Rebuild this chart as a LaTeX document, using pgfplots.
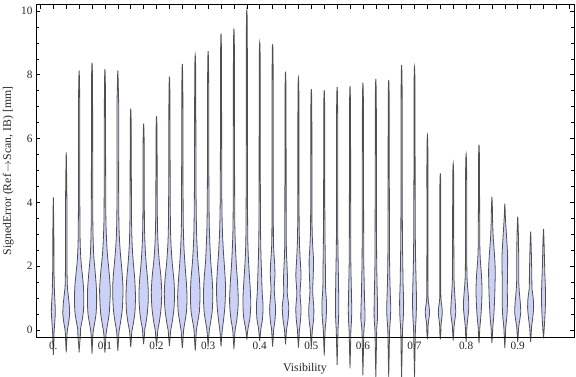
\documentclass[border=0pt]{standalone}
\usepackage{fontspec}
\setmainfont{Liberation Serif}
\usepackage{pgfplots}
\pgfplotsset{compat=1.18}
\definecolor{vfill}{RGB}{204,210,247}
\definecolor{vedge}{RGB}{80,80,80}
\def\vs{0.001938}
\newcommand\violin[4]{%
  \gdef\rpts{(#1,#2)}\gdef\lpts{}%
  \foreach \yy/\ww in {#4}{%
    \pgfmathsetmacro\xr{#1+\ww*\vs}%
    \pgfmathsetmacro\xl{#1-\ww*\vs}%
    \xdef\rpts{\rpts (\xr,\yy)}%
    \xdef\lpts{(\xl,\yy) \lpts}%
  }%
  \edef\temp{\noexpand\addplot[violin] coordinates {\rpts (#1,#3) \lpts (#1,#2)};}%
  \temp
}
\begin{document}
\begin{tikzpicture}
\path[use as bounding box] (-36bp,-39.7bp) rectangle (540bp,337.3bp);
\begin{axis}[
  scale only axis, width=538bp, height=332.6bp,
  at={(0,0)}, anchor=south west,
  xmin=-0.0336, xmax=1.0091, ymin=-0.229, ymax=10.197,
  clip=false, axis on top,
  axis line style={line width=0.7bp},
  tick style={black, line width=0.6bp},
  tick align=inside,
  major tick length=4.3bp, minor tick length=2.6bp,
  xtick={-0.025,0,0.025,0.05,0.075,0.1,0.125,0.15,0.175,0.2,0.225,0.25,0.275,0.3,0.325,0.35,0.375,0.4,0.425,0.45,0.475,0.5,0.525,0.55,0.575,0.6,0.625,0.65,0.675,0.7,0.725,0.75,0.775,0.8,0.825,0.85,0.875,0.9,0.925,0.95,0.975,1.0},
  xticklabels={{},{0.},{},{},{},{0.1},{},{},{},{0.2},{},{},{},{0.3},{},{},{},{0.4},{},{},{},{0.5},{},{},{},{0.6},{},{},{},{0.7},{},{},{},{0.8},{},{},{},{0.9},{},{},{},{}},
  xtick pos=right, xticklabel pos=left,
  ytick={0,2,4,6,8,10}, minor y tick num=3,
  ytick pos=both, yticklabel pos=left,
  /pgf/number format/assume math mode=true,
  ticklabel style={font=\fontsize{11.3}{13}\selectfont, text=black!85},
  xticklabel style={yshift=-1.5bp},
  xlabel={Visibility}, ylabel={SignedError (Ref$\,\rightarrow$Scan, IB) [mm]},
  every axis x label/.style={at={(axis description cs:0.5,-0.0932)}, anchor=center, font=\fontsize{11.8}{14}\selectfont, text=black!85},
  every axis y label/.style={at={(axis description cs:-0.0515,0.5)}, anchor=center, rotate=90, font=\fontsize{11.8}{14}\selectfont, text=black!85},
  violin/.style={draw=vedge, line width=0.8bp, fill=vfill, smooth, tension=0.5, mark=none},
]
\violin{0}{-0.78}{4.16}{-0.4/0.5, -0.1/0.7, 0.2/1.3, 0.55/2.0, 0.9/1.6, 1.2/1.1, 1.5/0.9, 2.0/0.6, 3.0/0.5}
\violin{0.025}{-0.70}{5.57}{-0.4/0.5, -0.05/1.0, 0.25/2.5, 0.5/3.4, 0.8/3.0, 1.1/2.0, 1.4/1.1, 2.0/0.8, 3.5/0.8, 4.6/0.5}
\violin{0.05}{-0.70}{8.13}{-0.45/0.5, -0.2/1.2, 0.05/1.5, 0.3/3.0, 0.6/4.3, 1.0/4.7, 1.4/4.2, 1.8/3.0, 2.2/1.8, 2.8/1.0, 4.0/0.7, 6.0/0.6, 7.5/0.5}
\violin{0.075}{-0.75}{8.38}{-0.4/0.5, -0.1/1.0, 0.15/2.2, 0.5/4.0, 0.9/4.6, 1.3/4.4, 1.8/3.2, 2.3/1.8, 3.0/1.0, 4.0/0.7, 6.0/0.6, 7.8/0.5}
\violin{0.1}{-0.71}{8.18}{-0.4/0.6, -0.1/1.2, 0.15/2.5, 0.5/4.2, 0.9/5.0, 1.3/5.3, 1.8/4.2, 2.4/2.4, 3.0/1.4, 3.6/0.9, 5.0/0.7, 7.5/0.5}
\violin{0.125}{-0.65}{8.14}{-0.35/0.6, -0.05/1.2, 0.2/2.5, 0.6/4.3, 1.0/5.0, 1.4/5.1, 1.9/4.0, 2.5/2.3, 3.2/1.2, 4.5/0.8, 6.8/0.9, 7.6/0.5}
\violin{0.15}{-0.54}{6.94}{-0.3/0.6, -0.05/1.1, 0.2/2.6, 0.6/4.3, 1.1/4.7, 1.6/4.0, 2.1/2.6, 2.7/1.4, 3.5/0.8, 5.0/0.6, 6.4/0.5}
\violin{0.175}{-0.44}{6.47}{-0.2/0.7, 0.05/1.3, 0.2/2.2, 0.5/3.6, 1.0/4.7, 1.5/4.2, 2.0/2.8, 2.6/1.5, 3.4/0.8, 5.0/0.6, 6.0/0.5}
\violin{0.2}{-0.52}{6.70}{-0.25/0.7, 0/1.3, 0.25/2.8, 0.7/4.6, 1.2/5.2, 1.7/4.3, 2.2/2.6, 2.8/1.4, 3.6/0.8, 5.0/0.6, 6.2/0.5}
\violin{0.225}{-0.50}{7.94}{-0.25/0.7, 0/1.3, 0.25/2.8, 0.7/4.6, 1.15/5.1, 1.6/4.4, 2.1/2.8, 2.8/1.4, 3.6/0.9, 5.0/0.7, 7.3/0.5}
\violin{0.25}{-0.57}{8.34}{-0.3/0.7, 0/1.3, 0.25/2.6, 0.6/4.2, 1.05/4.7, 1.5/4.0, 2.0/2.8, 2.6/1.6, 3.4/0.9, 5.0/0.7, 7.6/0.5}
\violin{0.275}{-0.65}{8.62}{-0.35/0.6, 0/1.2, 0.25/2.5, 0.6/4.2, 1.1/4.8, 1.6/4.2, 2.2/2.6, 3.0/1.4, 4.0/0.9, 5.5/0.7, 8.0/0.5}
\violin{0.3}{-0.52}{8.75}{-0.25/0.6, 0/1.2, 0.25/2.5, 0.6/4.1, 1.1/4.7, 1.6/4.0, 2.2/2.5, 3.0/1.4, 3.6/1.0, 5.0/0.7, 8.0/0.5}
\violin{0.325}{-0.52}{9.30}{-0.25/0.6, 0/1.2, 0.3/2.5, 0.8/4.0, 1.35/4.5, 1.9/3.6, 2.5/2.3, 3.2/1.3, 4.2/0.8, 6.0/0.6, 8.5/0.5}
\violin{0.35}{-0.60}{9.45}{-0.3/0.6, 0/1.2, 0.3/2.8, 0.7/4.1, 1.0/4.3, 1.5/3.6, 2.1/2.3, 2.8/1.3, 3.6/0.8, 6.0/0.6, 8.7/0.5}
\violin{0.375}{-0.30}{10.03}{-0.1/0.6, 0.1/1.5, 0.4/3.2, 0.8/3.9, 1.2/3.6, 1.7/2.6, 2.3/1.5, 3.0/0.9, 5.0/0.6, 9.2/0.5}
\violin{0.4}{-0.35}{9.02}{-0.15/0.6, 0.05/1.2, 0.35/2.8, 0.75/3.3, 1.1/2.6, 1.4/2.2, 1.8/1.8, 2.4/1.2, 3.2/0.8, 5.0/0.6, 8.3/0.5}
\violin{0.425}{-0.52}{8.94}{-0.25/0.6, 0/1.0, 0.3/2.3, 0.65/3.0, 1.0/2.2, 1.3/1.6, 1.7/2.3, 2.1/2.0, 2.6/1.0, 3.5/0.7, 8.2/0.5}
\violin{0.45}{-0.45}{8.10}{-0.2/0.6, 0/1.0, 0.35/2.6, 0.75/3.2, 1.15/1.8, 1.6/2.0, 2.1/1.4, 2.7/0.8, 5.0/0.6, 7.4/0.5}
\violin{0.475}{-0.55}{7.91}{-0.25/0.6, 0/1.0, 0.35/2.2, 0.7/2.6, 1.15/1.6, 1.7/2.6, 2.2/1.8, 2.8/1.0, 4.0/0.6, 7.2/0.5}
\violin{0.5}{-0.55}{7.55}{-0.25/0.6, 0/1.0, 0.35/2.3, 0.7/2.5, 1.2/1.4, 1.8/2.0, 2.2/2.2, 2.7/1.3, 3.5/0.7, 6.8/0.5}
\violin{0.525}{-0.80}{7.52}{-0.4/0.5, 0/0.9, 0.4/2.0, 0.85/2.3, 1.3/1.4, 1.9/1.2, 2.6/0.9, 4.0/0.6, 6.8/0.5}
\violin{0.55}{-1.10}{7.62}{-0.5/0.5, 0/0.9, 0.4/1.5, 0.9/1.6, 1.5/1.4, 2.2/1.0, 3.0/0.7, 5.0/0.6, 7.0/0.5}
\violin{0.575}{-1.20}{7.65}{-0.6/0.5, 0/0.9, 0.3/1.5, 0.7/1.7, 1.2/1.4, 1.8/1.0, 2.6/0.7, 5.0/0.6, 7.0/0.5}
\violin{0.6}{-1.42}{7.75}{-0.7/0.5, 0/1.0, 0.3/2.0, 0.6/2.0, 1.0/1.6, 1.6/1.2, 2.4/0.8, 5.0/0.6, 7.1/0.5}
\violin{0.625}{-1.50}{7.87}{-0.7/0.5, 0/0.9, 0.4/1.7, 0.9/1.6, 1.5/1.2, 2.4/0.8, 5.0/0.6, 7.2/0.5}
\violin{0.65}{-1.50}{7.84}{-0.7/0.5, 0/0.9, 0.35/1.7, 0.7/2.0, 1.1/1.6, 1.7/1.1, 2.5/0.8, 5.0/0.6, 7.2/0.5}
\violin{0.675}{-1.50}{8.30}{-0.7/0.5, 0/0.9, 0.4/1.7, 0.9/2.0, 1.4/1.5, 2.0/1.2, 3.0/0.8, 5.0/0.6, 7.6/0.5}
\violin{0.7}{-1.50}{8.25}{-0.7/0.5, 0/0.9, 0.4/1.6, 0.9/2.0, 1.5/1.6, 2.2/1.1, 3.0/0.8, 5.0/0.6, 7.6/0.5}
\violin{0.725}{-0.29}{6.11}{-0.1/0.5, 0.15/0.7, 0.35/1.5, 0.55/2.2, 0.75/1.6, 0.95/0.8, 1.3/0.6, 3.0/0.5, 5.5/0.5}
\violin{0.75}{-0.29}{4.91}{-0.1/0.5, 0.15/0.7, 0.35/1.4, 0.55/2.0, 0.75/1.5, 0.95/0.7, 1.3/0.5, 3.0/0.5, 4.4/0.5}
\violin{0.775}{-0.33}{5.22}{-0.1/0.5, 0.1/0.8, 0.3/1.6, 0.55/2.5, 0.9/2.0, 1.3/1.2, 1.7/0.8, 3.0/0.6, 4.7/0.5}
\violin{0.8}{-0.37}{5.52}{-0.15/0.5, 0.1/0.8, 0.35/1.6, 0.7/2.7, 1.0/2.4, 1.4/1.4, 1.8/0.8, 3.0/0.6, 5.0/0.5}
\violin{0.825}{-0.42}{5.81}{-0.15/0.5, 0.1/0.9, 0.4/1.8, 0.8/2.6, 1.25/3.0, 1.7/2.5, 2.2/1.3, 2.7/0.8, 4.0/0.6, 5.3/0.5}
\violin{0.85}{-0.40}{4.17}{-0.15/0.5, 0.1/0.9, 0.4/1.8, 0.9/2.6, 1.4/3.1, 1.9/3.3, 2.4/2.5, 2.9/1.3, 3.4/0.7, 3.8/0.5}
\violin{0.875}{-0.57}{3.96}{-0.25/0.5, 0.1/1.0, 0.4/2.0, 0.8/2.6, 1.3/2.5, 1.8/2.7, 2.3/2.8, 2.8/2.0, 3.3/1.0, 3.6/0.5}
\violin{0.9}{-0.38}{3.55}{-0.15/0.5, 0.1/1.0, 0.3/2.0, 0.55/3.0, 0.85/2.6, 1.2/1.6, 1.6/1.0, 2.2/1.0, 2.8/0.8, 3.2/0.5}
\violin{0.925}{-0.37}{3.08}{-0.15/0.5, 0.1/1.0, 0.35/2.0, 0.7/3.0, 1.0/2.6, 1.3/1.4, 1.7/1.2, 2.2/0.9, 2.7/0.5}
\violin{0.95}{-0.26}{3.17}{-0.05/0.5, 0.2/1.0, 0.6/1.7, 1.0/2.0, 1.4/1.8, 1.8/1.3, 2.3/0.9, 2.8/0.5}
\end{axis}
\end{tikzpicture}
\end{document}
